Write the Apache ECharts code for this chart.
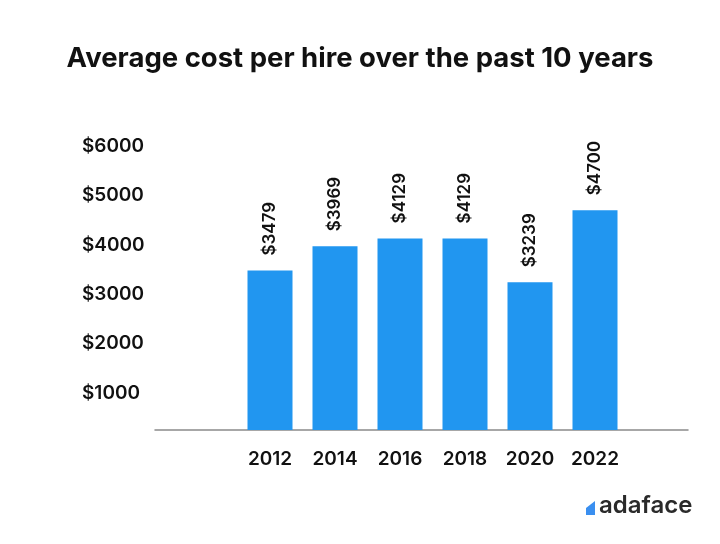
<!DOCTYPE html>
<html>
<head>
<meta charset="utf-8">
<script src="https://cdn.jsdelivr.net/npm/echarts@6/dist/echarts.min.js"></script>
<style>
  html, body { margin: 0; padding: 0; background: #fff; }
  #chart { width: 720px; height: 544px; }
</style>
</head>
<body>
<div id="chart"></div>
<script>
var years = ['2012', '2014', '2016', '2018', '2020', '2022'];
var costs = [3479, 3969, 4129, 4129, 3239, 4700];
var yTicks = [1000, 2000, 3000, 4000, 5000, 6000];

var font = 'Inter, "Noto Sans", sans-serif';

var chart = echarts.init(document.getElementById('chart'));
var option = {
    backgroundColor: '#ffffff',
    animation: false,
    title: {
        text: 'Average cost per hire over the past 10 years',
        left: 'center',
        top: 40,
        textStyle: { fontFamily: font, fontSize: 27.5, fontWeight: 'bold', color: '#111' }
    },
    //grid 0 holds the bars, grid 1 the long base line and the $ labels
    grid: [
        { left: 237.5, right: 92.5, top: 146, bottom: 114 },
        { left: 155, right: 32, top: 146, bottom: 114 }
    ],
    xAxis: [
        {
            type: 'category',
            gridIndex: 0,
            data: years,
            axisLine: { show: false },
            axisTick: { show: false },
            axisLabel: { fontFamily: font, fontSize: 19, fontWeight: 600, color: '#111', margin: 20 }
        },
        {
            type: 'value',
            gridIndex: 1,
            axisLine: { show: true, lineStyle: { color: '#8a8a8a', width: 1.5 } },
            axisTick: { show: false },
            axisLabel: { show: false },
            splitLine: { show: false }
        }
    ],
    yAxis: [
        {
            type: 'value',
            gridIndex: 0,
            min: 250,
            max: 6000,
            show: false
        },
        {
            type: 'value',
            gridIndex: 1,
            min: 250,
            max: 6000,
            axisLine: { show: false },
            axisTick: { show: false },
            splitLine: { show: false },
            axisLabel: {
                customValues: yTicks,
                formatter: function (v) { return '$' + v; },
                align: 'left',
                margin: 73,
                fontFamily: font, fontSize: 19, fontWeight: 600, color: '#111'
            }
        }
    ],
    series: [
        {
            type: 'bar',
            xAxisIndex: 0,
            yAxisIndex: 0,
            data: costs,
            barWidth: 45,
            itemStyle: { color: '#2196f0' },
            label: {
                show: true,
                position: 'top',
                rotate: 90,
                align: 'left',
                verticalAlign: 'middle',
                distance: 15,
                formatter: function (p) { return '$' + p.value; },
                fontFamily: font, fontSize: 17, fontWeight: 600, color: '#111'
            }
        }
    ],
    graphic: [
        {
            type: 'polygon',
            shape: { points: [[586, 508], [595, 501], [595, 515], [586, 515]] },
            style: { fill: '#3a8ff0' }
        },
        {
            type: 'text',
            left: 599,
            top: 494,
            style: { text: 'adaface', fontFamily: font, fontSize: 24, fontWeight: 600, fill: '#2a2a2a' }
        }
    ]
};
chart.setOption(option);
</script>
</body>
</html>
